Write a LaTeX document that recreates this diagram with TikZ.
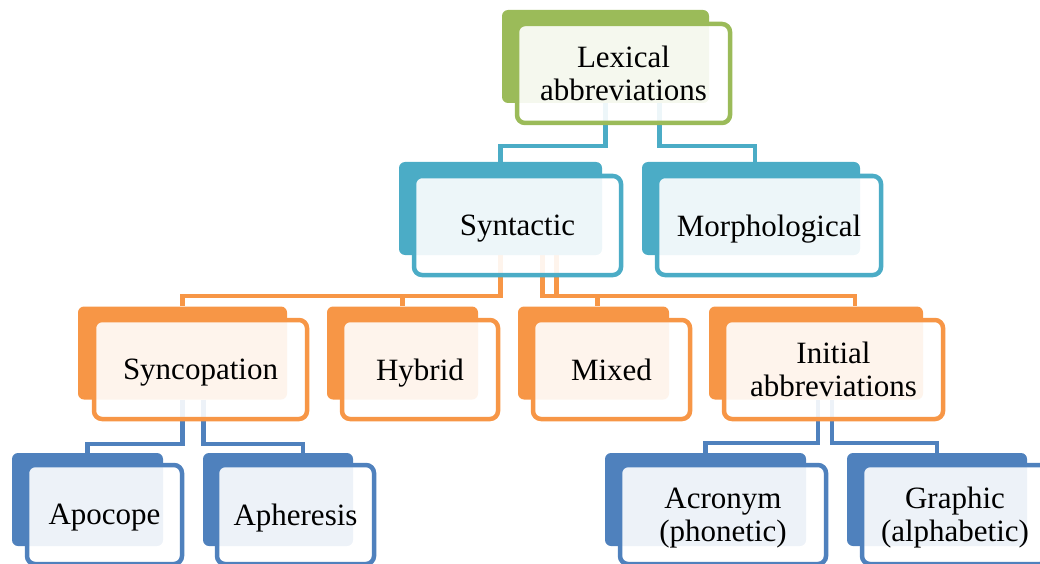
\documentclass[tikz,border=0pt]{standalone}
\usepackage{fontspec}
\setmainfont{Liberation Serif}
\usetikzlibrary{backgrounds}

\definecolor{lexgreen}{HTML}{9BBB59}
\definecolor{syncyan}{HTML}{4BACC6}
\definecolor{suborange}{HTML}{F79646}
\definecolor{leafblue}{HTML}{4F81BD}

\tikzset{
  backbox/.style={rectangle, rounded corners=6pt, fill=#1, inner sep=0pt, minimum height=93pt},
  frontbox/.style={rectangle, rounded corners=8pt, draw=#1, line width=4.5pt, fill=white,
    fill opacity=0.9, text opacity=1, inner sep=0pt, minimum height=99pt, align=center,
    text depth=0pt, font=\fontsize{31}{33}\selectfont},
  link/.style={draw=#1, line width=4.2pt}
}

\begin{document}
\begin{tikzpicture}[x=1pt,y=-1pt]
\useasboundingbox (0,0) rectangle (1040,564);
\clip (0,0) rectangle (1040,564);
% top
\node[backbox=lexgreen, minimum width=207pt] (lexB) at (605.5,56.5) {};
\node[frontbox=lexgreen, minimum width=213pt] (lex) at (623.5,73.5) {Lexical\\abbreviations};
% second row
\node[backbox=syncyan, minimum width=203pt] (synB) at (500.5,208.5) {};
\node[frontbox=syncyan, minimum width=207pt] (syn) at (517.5,225.5) {Syntactic};
\node[backbox=syncyan, minimum width=218pt] (morB) at (751,208.5) {};
\node[frontbox=syncyan, minimum width=224pt] (mor) at (769,225.5) {Morphological};
% third row
\node[backbox=suborange, minimum width=209pt] (sncB) at (182.5,353) {};
\node[frontbox=suborange, minimum width=213pt] (snc) at (200.5,369.5) {Syncopation};
\node[backbox=suborange, minimum width=151pt] (hybB) at (402.5,353) {};
\node[frontbox=suborange, minimum width=156pt] (hyb) at (420,369.5) {Hybrid};
\node[backbox=suborange, minimum width=151pt] (mixB) at (593.5,353) {};
\node[frontbox=suborange, minimum width=157pt] (mix) at (611.5,369.5) {Mixed};
\node[backbox=suborange, minimum width=214pt] (iniB) at (816,353) {};
\node[frontbox=suborange, minimum width=219pt] (ini) at (833.5,369.5) {Initial\\abbreviations};
% bottom row
\node[backbox=leafblue, minimum width=151pt] (apoB) at (87.5,499.5) {};
\node[frontbox=leafblue, minimum width=155pt] (apo) at (104.5,514.5) {Apocope};
\node[backbox=leafblue, minimum width=150pt] (aphB) at (278,499.5) {};
\node[frontbox=leafblue, minimum width=157pt] (aph) at (295.5,514.5) {Apheresis};
\node[backbox=leafblue, minimum width=201pt] (acrB) at (705.5,499.5) {};
\node[frontbox=leafblue, minimum width=206pt] (acr) at (723,514.5) {Acronym\\(phonetic)};
\node[backbox=leafblue, minimum width=180pt] (graB) at (937,499.5) {};
\node[frontbox=leafblue, minimum width=186pt] (gra) at (955,514.5) {Graphic\\(alphabetic)};
% connectors behind the boxes
\begin{scope}[on background layer]
\draw[link=syncyan] (lexB.south) -- ++(0,43) -| (synB.north);
\draw[link=syncyan] ([xshift=54pt]lexB.south) -- ++(0,43) -| ([xshift=4pt]morB.north);
\draw[link=suborange] (synB.south) -- ++(0,41) -| (sncB.north);
\draw[link=suborange] (synB.south) -- ++(0,41) -| (hybB.north);
\draw[link=suborange] ([xshift=42pt]synB.south) -- ++(0,41) -| ([xshift=4pt]mixB.north);
\draw[link=suborange] ([xshift=56pt]synB.south) -- ++(0,41) -| ([xshift=39pt]iniB.north);
\draw[link=leafblue] (sncB.south) -- ++(0,44) -| (apoB.north);
\draw[link=leafblue] ([xshift=21pt]sncB.south) -- ++(0,44) -| ([xshift=25pt]aphB.north);
\draw[link=leafblue] ([xshift=2pt]iniB.south) -- ++(0,43) -| (acrB.north);
\draw[link=leafblue] ([xshift=16pt]iniB.south) -- ++(0,43) -| (graB.north);
\end{scope}
\end{tikzpicture}
\end{document}
